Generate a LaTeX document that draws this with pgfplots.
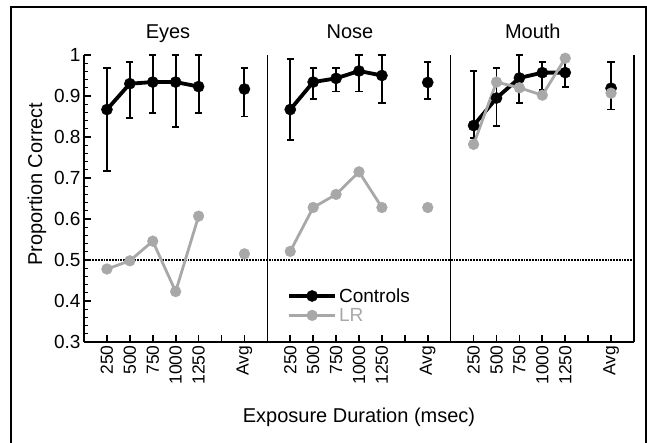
\documentclass[border=0pt]{standalone}
\usepackage{pgfplots}
\pgfplotsset{compat=1.18}
\usepackage{fontspec}
\setmainfont{Liberation Sans}
\definecolor{lrgray}{RGB}{168,168,168}

\pgfplotsset{
  ctrl/.style={black, line width=3.8pt, mark=*, mark size=5.6pt,
    mark options={solid, fill=black, line width=0.4pt},
    error bars/y dir=both, error bars/y explicit,
    error bars/error bar style={line width=1.9pt, black},
    error bars/error mark options={rotate=90, mark size=3.6pt, line width=1.9pt, black}},
  lr/.style={lrgray, line width=2.8pt, mark=*, mark size=5.4pt,
    mark options={solid, fill=lrgray, draw=lrgray, line width=0.4pt}},
}

\begin{document}
\begin{tikzpicture}[x=1pt,y=1pt]
\useasboundingbox (0,0) rectangle (647,443);
\draw[line width=2.8pt] (11,-10) -- (11,436) -- (646,436) -- (646,-10);
\begin{axis}[
  at={(84pt,101pt)}, anchor=south west,
  width=550pt, height=287pt, scale only axis,
  xmin=0, xmax=24, ymin=0.3, ymax=1,
  axis x line*=bottom, axis y line*=left,
  axis line style={line width=2pt, black},
  tick align=inside,
  major tick length=7pt, minor tick length=4pt,
  tick style={line width=1.7pt, black},
  minor tick style={line width=1.3pt, black},
  ytick={0.3,0.4,0.5,0.6,0.7,0.8,0.9,1},
  minor y tick num=4,
  xtick={1,2,3,4,5,6,7,9,10,11,12,13,14,15,17,18,19,20,21,22,23},
  xticklabels={250,500,750,1000,1250,,Avg,250,500,750,1000,1250,,Avg,250,500,750,1000,1250,,Avg},
  xticklabel style={rotate=90, anchor=east, font=\fontsize{17.5}{20}\selectfont},
  yticklabel style={font=\fontsize{19}{22}\selectfont},
  /pgf/number format/assume math mode=true,
  clip=false,
  xlabel={Exposure Duration (msec)},
  ylabel={Proportion Correct},
  every axis x label/.style={at={(axis description cs:0.5,-0.282)}, anchor=base, font=\fontsize{20}{22}\selectfont},
  every axis y label/.style={at={(axis description cs:-0.0855,0.55)}, rotate=90, anchor=center, font=\fontsize{20}{22}\selectfont},
  legend style={at={(axis cs:8.86,0.389)}, anchor=west, draw=none, fill=none,
    inner sep=0pt, font=\fontsize{19}{19}\selectfont, row sep=0.5pt},
  legend cell align=left,
  legend image code/.code={\draw[mark repeat=2,mark phase=2,#1] plot coordinates {(0pt,0pt) (23pt,0pt) (46pt,0pt)};},
]
% reference line at 0.5
\addplot[black, line width=1.8pt, densely dotted, forget plot] coordinates {(0,0.5) (24,0.5)};

% Eyes
\addplot[ctrl] coordinates {
 (1,0.867) += (0,0.102) -= (0,0.151)
 (2,0.930) += (0,0.053) -= (0,0.084)
 (3,0.934) += (0,0.066) -= (0,0.076)
 (4,0.934) += (0,0.066) -= (0,0.109)
 (5,0.923) += (0,0.077) -= (0,0.065)};
\addlegendentry{Controls}
\addplot[lr] coordinates {(1,0.478) (2,0.498) (3,0.546) (4,0.423) (5,0.607)};
\addlegendentry{\textcolor{lrgray}{LR}}
\addplot[ctrl, forget plot] coordinates {(7,0.917) += (0,0.052) -= (0,0.067)};
\addplot[lr, forget plot] coordinates {(7,0.515)};

% Nose
\addplot[ctrl, forget plot] coordinates {
 (9,0.867) += (0,0.124) -= (0,0.075)
 (10,0.934) += (0,0.035) -= (0,0.042)
 (11,0.943) += (0,0.026) -= (0,0.032)
 (12,0.961) += (0,0.039) -= (0,0.050)
 (13,0.950) += (0,0.050) -= (0,0.068)};
\addplot[lr, forget plot] coordinates {(9,0.521) (10,0.628) (11,0.660) (12,0.715) (13,0.628)};
\addplot[ctrl, forget plot] coordinates {(15,0.933) += (0,0.051) -= (0,0.041)};
\addplot[lr, forget plot] coordinates {(15,0.628)};

% Mouth
\addplot[ctrl, forget plot] coordinates {
 (17,0.828) += (0,0.132) -= (0,0.030)
 (18,0.895) += (0,0.074) -= (0,0.069)
 (19,0.944) += (0,0.056) -= (0,0.060)
 (20,0.957) += (0,0.025) -= (0,0.042)
 (21,0.957) += (0,0.030) -= (0,0.036)};
\addplot[ctrl, forget plot] coordinates {(23,0.919) += (0,0.063) -= (0,0.052)};
\addplot[lr, forget plot] coordinates {(17,0.782) (18,0.934) (19,0.920) (20,0.902) (21,0.992)};
\addplot[lr, forget plot] coordinates {(23,0.907)};

% panel frame lines
\draw[line width=2pt] (rel axis cs:1,0) -- (rel axis cs:1,1);
\draw[line width=1.4pt] (axis cs:8,0.3) -- (axis cs:8,1);
\draw[line width=1.4pt] (axis cs:16,0.3) -- (axis cs:16,1);

% panel titles
\node[anchor=base, font=\fontsize{20}{22}\selectfont] at (axis description cs:0.1527,1.056) {Eyes};
\node[anchor=base, font=\fontsize{20}{22}\selectfont] at (axis description cs:0.4836,1.056) {Nose};
\node[anchor=base, font=\fontsize{20}{22}\selectfont] at (axis description cs:0.816,1.056) {Mouth};
\end{axis}
\end{tikzpicture}
\end{document}
